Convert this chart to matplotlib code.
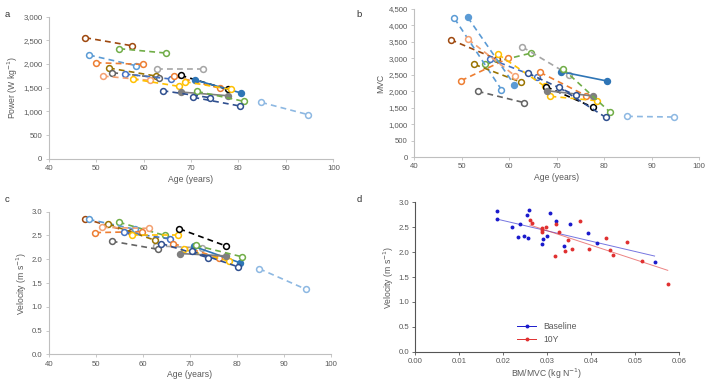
import numpy as np
import matplotlib
matplotlib.use('Agg')
from matplotlib import pyplot as plt

plt.rcParams['font.family'] = ['Liberation Sans', 'DejaVu Sans']

# one entry per subject (baseline -> 10 years later)
colors = ['#9e480e', '#70ad47', '#5b9bd5', '#ed7d31', '#a5a5a5', '#997300', '#636363',
          '#4472c4', '#f4a070', '#ffc000', '#ed7d31', '#000000', '#2e75b6', '#ffc000',
          '#7f7f7f', '#70ad47', '#2f4f8f', '#2f4f8f', '#8db8e2', '#5b9bd5']
filled = [0, 0, 0, 0, 0, 0, 0, 0, 0, 0, 0, 0, 1, 0, 1, 0, 0, 0, 0, 1]
solid = [0, 0, 0, 0, 0, 0, 0, 0, 0, 0, 0, 0, 1, 0, 1, 0, 0, 0, 0, 0]
age0 = [47.7, 54.9, 48.5, 49.9, 62.8, 52.7, 53.4, 56.0, 51.4, 57.7, 66.5, 67.8, 70.9, 68.7,
        67.9, 71.3, 64.0, 70.5, 84.8, 51.3]
age1 = [57.5, 64.7, 58.4, 59.8, 72.6, 62.6, 63.2, 65.8, 61.3, 67.5, 76.2, 77.7, 80.6, 78.4,
        77.7, 81.2, 74.0, 80.3, 94.7, 61.1]
power0 = [2556, 2324, 2190, 2028, 1894, 1915, 1817, 1789, 1746, 1683, 1739, 1761, 1662, 1627,
          1408, 1420, 1437, 1296, 1190, np.nan]
power1 = [2387, 2232, 1965, 1993, 1894, 1746, 1711, 1683, 1655, 1528, 1486, 1465, 1387, 1465,
          1331, 1211, 1289, 1113, 930, np.nan]
mvc0 = [3567, 2817, 4216, 2321, 3344, 2817, 1997, 2980, 3578, 3121, 2574, 2138, 2594, 1845,
        2017, 2686, 2544, 2118, 1236, 4247]
mvc1 = [2970, 3162, 2047, 3000, 2503, 2270, 1652, 2432, 2463, 2150, 1865, 1510, 2311, 1713,
        1855, 1368, 1875, 1206, 1216, 2199]
vel0 = [2.85, 2.78, 2.84, 2.56, 2.28, 2.74, 2.38, 2.57, 2.67, 2.50, 2.33, 2.64, 2.27, 2.21,
        2.12, 2.29, 2.33, 2.17, 1.80, np.nan]
vel1 = [2.57, 2.50, 2.63, 2.58, 2.24, 2.40, 2.21, 2.43, 2.65, 2.50, 2.03, 2.28, 1.93, 1.96,
        2.07, 2.05, 2.03, 1.84, 1.37, np.nan]

# panel d
bm_base = [0.0187, 0.0187, 0.0220, 0.0238, 0.0233, 0.0248, 0.0254, 0.0256, 0.0259, 0.0289,
           0.0291, 0.0300, 0.0307, 0.0321, 0.0339, 0.0352, 0.0393, 0.0413, 0.0545]
vel_base = [2.83, 2.67, 2.50, 2.57, 2.30, 2.33, 2.75, 2.28, 2.84, 2.16, 2.26, 2.33, 2.78, 2.63,
            2.12, 2.56, 2.38, 2.18, 1.80]
bm_10y = [0.0261, 0.0265, 0.0289, 0.0289, 0.0289, 0.0298, 0.0321, 0.0328, 0.0318, 0.0342,
          0.0347, 0.0358, 0.0375, 0.0396, 0.0434, 0.0444, 0.0450, 0.0482, 0.0516, 0.0575]
vel_10y = [2.65, 2.58, 2.49, 2.45, 2.41, 2.50, 2.56, 2.40, 1.92, 2.03, 2.24, 2.06, 2.63, 2.06,
           2.28, 2.04, 1.95, 2.20, 1.83, 1.36]

grey = '#595959'
axcol = '#bfbfbf'
lab_fs = 6.2
tick_fs = 5.6


def style(ax):
    for s in ['top', 'right']:
        ax.spines[s].set_visible(False)
    for s in ['left', 'bottom']:
        ax.spines[s].set_color(axcol)
        ax.spines[s].set_linewidth(0.8)
    ax.tick_params(labelsize=tick_fs, colors=axcol, labelcolor=grey, length=2.5, width=0.6, pad=2)


def panel(ax, y0, y1):
    for i in range(len(colors)):
        if np.isnan(y0[i]):
            continue
        ls = '-' if solid[i] else (0, (3.5, 2.5))
        fc = colors[i] if filled[i] else 'white'
        ax.plot([age0[i], age1[i]], [y0[i], y1[i]], color=colors[i], ls=ls, lw=1.2,
                marker='o', ms=4.2, mfc=fc, mec=colors[i], mew=1.1)
    ax.set_xlim(40, 100)
    ax.set_xticks(range(40, 101, 10))
    ax.set_xlabel('Age (years)', fontsize=lab_fs, color=grey, labelpad=2)
    style(ax)


fig = plt.figure(figsize=(7.09, 3.82), dpi=100)

ax = fig.add_axes([0.0687, 0.5846, 0.4014, 0.3717])
panel(ax, power0, power1)
ax.set_ylim(0, 3000)
ax.set_yticks(range(0, 3001, 500))
ax.set_yticklabels(['{:,}'.format(v) for v in range(0, 3001, 500)])
ax.set_ylabel('Power (W kg$^{-1}$)', fontsize=lab_fs, color=grey, labelpad=2)

ax = fig.add_axes([0.5839, 0.589, 0.4024, 0.3874])
panel(ax, mvc0, mvc1)
ax.set_ylim(0, 4500)
ax.set_yticks(range(0, 4501, 500))
ax.set_yticklabels(['{:,}'.format(v) for v in range(0, 4501, 500)])
ax.set_ylabel('MVC', fontsize=lab_fs, color=grey, labelpad=2)

ax = fig.add_axes([0.0687, 0.0725, 0.3977, 0.3733])
panel(ax, vel0, vel1)
ax.set_ylim(0, 3)
ax.set_yticks(np.arange(0, 3.01, 0.5))
ax.set_yticklabels(['{:.1f}'.format(v) for v in np.arange(0, 3.01, 0.5)])
ax.set_ylabel('Velocity (m s$^{-1}$)', fontsize=lab_fs, color=grey, labelpad=2)

ax = fig.add_axes([0.5858, 0.0793, 0.3715, 0.391])
for xs, ys, c, lab in [(bm_base, vel_base, '#1a1acc', 'Baseline'), (bm_10y, vel_10y, '#e03030', '10Y')]:
    xs = np.array(xs)
    ys = np.array(ys)
    k = np.polyfit(xs, ys, 1)
    xx = np.array([xs.min(), xs.max()])
    ax.plot(xx, np.polyval(k, xx), color=c, lw=0.7, alpha=0.6)
    ax.plot(xs, ys, 'o', color=c, ms=2.8, mew=0)
    ax.plot([], [], color=c, lw=0.7, marker='o', ms=2.8, mew=0, label=lab)
ax.set_xlim(0, 0.06)
ax.set_ylim(0, 3)
ax.set_xticks(np.arange(0, 0.061, 0.01))
ax.set_xticklabels(['{:.2f}'.format(v) for v in np.arange(0, 0.061, 0.01)])
ax.set_yticks(np.arange(0, 3.01, 0.5))
ax.set_yticklabels(['{:.1f}'.format(v) for v in np.arange(0, 3.01, 0.5)])
ax.set_xlabel('BM/MVC (kg N$^{-1}$)', fontsize=lab_fs, color=grey, labelpad=1)
ax.set_ylabel('Velocity (m s$^{-1}$)', fontsize=lab_fs, color=grey, labelpad=2)
style(ax)
ax.spines['left'].set_color('#555555')
ax.spines['bottom'].set_color('#555555')
ax.tick_params(colors='#555555', labelcolor=grey)
ax.legend(loc='lower center', bbox_to_anchor=(0.5, 0.0), frameon=False, fontsize=lab_fs,
          handlelength=2.2, labelcolor=grey)

for x, y, t in [(0.006, 0.975, 'a'), (0.503, 0.975, 'b'), (0.006, 0.49, 'c'), (0.503, 0.49, 'd')]:
    fig.text(x, y, t, fontsize=6.8, color='#333333', va='top')

fig.savefig('out.png', dpi=100)
